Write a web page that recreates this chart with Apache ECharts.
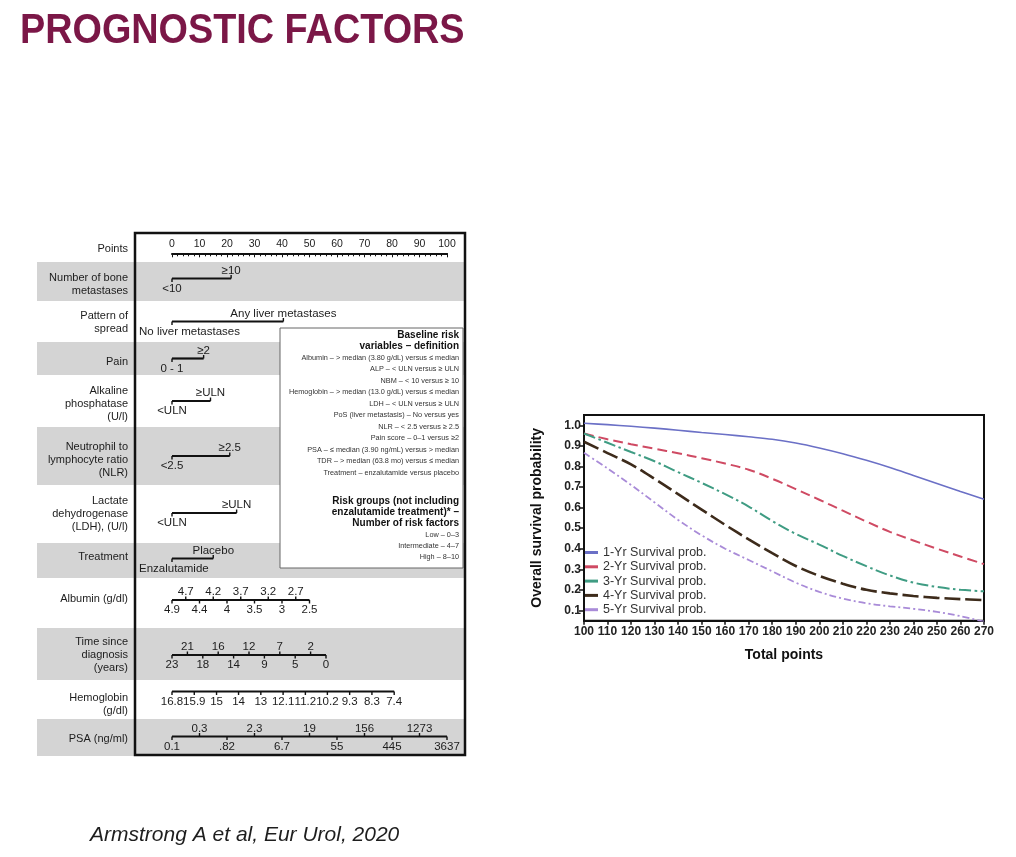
<!DOCTYPE html>
<html>
<head>
<meta charset="utf-8">
<script src="https://cdn.jsdelivr.net/npm/echarts@6/dist/echarts.min.js"></script>
<style>
html,body{margin:0;padding:0;background:#ffffff;}
#chart{width:1016px;height:857px;}
</style>
</head>
<body>
<div id="chart"></div>
<script>
// ================= DATA =================
const titleText = 'PROGNOSTIC FACTORS';
const citationText = 'Armstrong A et al, Eur Urol, 2020';

// Nomogram rows (variable names)
const rowNames = [
  'Points',
  'Number of bone\nmetastases',
  'Pattern of\nspread',
  'Pain',
  'Alkaline\nphosphatase\n(U/l)',
  'Neutrophil to\nlymphocyte ratio\n(NLR)',
  'Lactate\ndehydrogenase\n(LDH), (U/l)',
  'Treatment',
  'Albumin (g/dl)',
  'Time since\ndiagnosis\n(years)',
  'Hemoglobin\n(g/dl)',
  'PSA (ng/ml)'
];

// Points scale tick labels
const pointsTicks = [0, 10, 20, 30, 40, 50, 60, 70, 80, 90, 100];

// Each variable: tick labels and the points they map to
const boneLabels = ['<10', '≥10'];
const bonePoints = [0, 21.5];
const spreadLabels = ['No liver metastases', 'Any liver metastases'];
const spreadPoints = [0, 40.5];
const painLabels = ['0 - 1', '≥2'];
const painPoints = [0, 11.5];
const alpLabels = ['<ULN', '≥ULN'];
const alpPoints = [0, 14];
const nlrLabels = ['<2.5', '≥2.5'];
const nlrPoints = [0, 21];
const ldhLabels = ['<ULN', '≥ULN'];
const ldhPoints = [0, 23.5];
const treatmentLabels = ['Enzalutamide', 'Placebo'];
const treatmentPoints = [0, 15];
const albuminLabels = ['4.9', '4.7', '4.4', '4.2', '4', '3.7', '3.5', '3.2', '3', '2.7', '2.5'];
const albuminPoints = [0, 5, 10, 15, 20, 25, 30, 35, 40, 45, 50];
const timeLabels = ['23', '21', '18', '16', '14', '12', '9', '7', '5', '2', '0'];
const timePoints = [0, 5.6, 11.2, 16.8, 22.4, 28, 33.6, 39.2, 44.8, 50.4, 56];
const hbLabels = ['16.8', '15.9', '15', '14', '13', '12.1', '11.2', '10.2', '9.3', '8.3', '7.4'];
const hbPoints = [0, 8.1, 16.2, 24.2, 32.3, 40.4, 48.5, 56.5, 64.6, 72.7, 80.8];
const psaLabels = ['0.1', '0.3', '.82', '2.3', '6.7', '19', '55', '156', '445', '1273', '3637'];
const psaPoints = [0, 10, 20, 30, 40, 50, 60, 70, 80, 90, 100];

// Risk definition box
const riskHeader = ['Baseline risk', 'variables – definition'];
const riskDefinitions = [
  'Albumin – > median (3.80 g/dL) versus ≤ median',
  'ALP – < ULN versus ≥ ULN',
  'NBM – < 10 versus ≥ 10',
  'Hemoglobin – > median (13.0 g/dL) versus ≤ median',
  'LDH – < ULN versus ≥ ULN',
  'PoS (liver metastasis) – No versus yes',
  'NLR – < 2.5 versus ≥ 2.5',
  'Pain score – 0–1 versus ≥2',
  'PSA – ≤ median (3.90 ng/mL) versus > median',
  'TDR – > median (63.8 mo) versus ≤ median',
  'Treatment – enzalutamide versus placebo'
];
const riskGroupHeader = ['Risk groups (not including', 'enzalutamide treatment)* –', 'Number of risk factors'];
const riskGroups = ['Low – 0–3', 'Intermediate – 4–7', 'High – 8–10'];

// Survival curves
const totalPoints = [100, 110, 120, 130, 140, 150, 160, 170, 180, 190, 200, 210, 220, 230, 240, 250, 260, 270];
const surv1Yr = [1.01, 1.003, 0.995, 0.986, 0.976, 0.965, 0.955, 0.944, 0.932, 0.914, 0.89, 0.862, 0.83, 0.795, 0.756, 0.717, 0.678, 0.64];
const surv2Yr = [0.96, 0.932, 0.908, 0.886, 0.864, 0.84, 0.814, 0.784, 0.74, 0.69, 0.638, 0.585, 0.532, 0.482, 0.44, 0.40, 0.362, 0.325];
const surv3Yr = [0.96, 0.915, 0.87, 0.825, 0.772, 0.72, 0.665, 0.605, 0.535, 0.472, 0.42, 0.365, 0.315, 0.27, 0.235, 0.214, 0.20, 0.193];
const surv4Yr = [0.92, 0.865, 0.81, 0.74, 0.665, 0.59, 0.516, 0.445, 0.378, 0.316, 0.268, 0.23, 0.20, 0.183, 0.17, 0.161, 0.155, 0.15];
const surv5Yr = [0.866, 0.79, 0.71, 0.625, 0.54, 0.465, 0.40, 0.345, 0.29, 0.235, 0.19, 0.158, 0.135, 0.12, 0.108, 0.093, 0.072, 0.045];
const survNames = ['1-Yr Survival prob.', '2-Yr Survival prob.', '3-Yr Survival prob.', '4-Yr Survival prob.', '5-Yr Survival prob.'];
const yTickValues = [0.1, 0.2, 0.3, 0.4, 0.5, 0.6, 0.7, 0.8, 0.9, 1.0];

// ================= LAYOUT / STYLE =================
const FONT = '"Liberation Sans", Arial, Helvetica, sans-serif';
const rowHeights = [30, 39, 41, 33, 52, 58, 58, 35, 50, 52, 39, 37];
const rowShaded = [false, true, false, true, false, true, false, true, false, true, false, true];
const lineShift = [0, -3, 0, 0, 0, 0, -1, -2, -3, 1, -8, -1];
const nameShift = [2, 3, 1, 3, 3, 4, 0, -4, -4, 1, 4.5, 1];
const bandLeft = 37, bandRight = 465, nameRight = 128, labelMinLeft = 139;
const bandColor = '#d4d4d4';
const nomoTop = 232;
const nomoHeight = rowHeights.reduce((a, b) => a + b, 0);
const rowTops = [];
rowHeights.reduce((acc, h) => { rowTops.push(acc); return acc + h; }, 0);

const rowScales = [
  null,
  { labels: boneLabels, points: bonePoints, side: 'alternate' },
  { labels: spreadLabels, points: spreadPoints, side: 'alternate' },
  { labels: painLabels, points: painPoints, side: 'alternate' },
  { labels: alpLabels, points: alpPoints, side: 'alternate' },
  { labels: nlrLabels, points: nlrPoints, side: 'alternate' },
  { labels: ldhLabels, points: ldhPoints, side: 'alternate' },
  { labels: treatmentLabels, points: treatmentPoints, side: 'alternate' },
  { labels: albuminLabels, points: albuminPoints, side: 'alternate' },
  { labels: timeLabels, points: timePoints, side: 'alternate' },
  { labels: hbLabels, points: hbPoints, side: 'below' },
  { labels: psaLabels, points: psaPoints, side: 'alternate' }
];

const measureCtx = document.createElement('canvas').getContext('2d');
function textWidth(t, font) { measureCtx.font = font; return measureCtx.measureText(t).width; }

const nameFont = '11px ' + FONT;
const tickFont = '11.5px ' + FONT;

function renderRow(params, api) {
  const i = params.dataIndex;
  const yTop = api.coord([0, rowTops[i]])[1];
  const yBot = api.coord([0, rowTops[i] + rowHeights[i]])[1];
  const cy = (yTop + yBot) / 2;
  const children = [];
  if (rowShaded[i]) {
    children.push({ type: 'rect', shape: { x: bandLeft, y: yTop, width: bandRight - bandLeft, height: yBot - yTop },
      style: { fill: bandColor } });
  }
  children.push({ type: 'text', style: { text: rowNames[i], x: nameRight, y: cy + nameShift[i],
    align: 'right', textAlign: 'right', verticalAlign: 'middle', textVerticalAlign: 'middle',
    font: nameFont, fill: '#1c1c1c', lineHeight: 13 } });
  const sc = rowScales[i];
  if (sc) {
    const ly = cy + lineShift[i];
    const xs = sc.points.map(p => api.coord([p, 0])[0]);
    children.push({ type: 'line', shape: { x1: xs[0], y1: ly, x2: xs[xs.length - 1], y2: ly },
      style: { stroke: '#111', lineWidth: 2.2 } });
    sc.labels.forEach((lab, k) => {
      const above = sc.side === 'alternate' && k % 2 === 1;
      children.push({ type: 'line', shape: { x1: xs[k], y1: ly, x2: xs[k], y2: above ? ly - 3.5 : ly + 3.5 },
        style: { stroke: '#111', lineWidth: 1.4 } });
      const w = textWidth(lab, tickFont);
      const left = Math.max(xs[k] - w / 2, labelMinLeft);
      children.push({ type: 'text', style: { text: lab, x: left, y: above ? ly - 8 : ly + 10,
        align: 'left', textAlign: 'left', verticalAlign: 'middle', textVerticalAlign: 'middle',
        font: tickFont, fill: '#1c1c1c' } });
    });
  }
  return { type: 'group', children: children };
}

// graphic elements
const graphics = [];
graphics.push({ type: 'text', x: 20, y: 31, scaleX: 0.9, z: 20,
  style: { text: titleText, font: 'bold 42px ' + FONT, fill: '#7b1747',
    align: 'left', textAlign: 'left', verticalAlign: 'middle', textVerticalAlign: 'middle' } });
graphics.push({ type: 'text', x: 90, y: 835, z: 20,
  style: { text: citationText, font: 'italic 21px ' + FONT, fill: '#1e1e1e',
    align: 'left', textAlign: 'left', verticalAlign: 'middle', textVerticalAlign: 'middle' } });
// risk box
graphics.push({ type: 'rect', z: 10, shape: { x: 280, y: 328, width: 183, height: 240 },
  style: { fill: '#ffffff', stroke: '#666', lineWidth: 1 } });
const riskRight = 459;
riskHeader.forEach((t, k) => graphics.push({ type: 'text', x: riskRight, y: 335 + k * 11.3, z: 11,
  style: { text: t, font: 'bold 10px ' + FONT, fill: '#111', align: 'right', textAlign: 'right', verticalAlign: 'middle', textVerticalAlign: 'middle' } }));
riskDefinitions.forEach((t, k) => graphics.push({ type: 'text', x: riskRight, y: 357.5 + k * 11.5, z: 11,
  style: { text: t, font: '7.3px ' + FONT, fill: '#333', align: 'right', textAlign: 'right', verticalAlign: 'middle', textVerticalAlign: 'middle' } }));
riskGroupHeader.forEach((t, k) => graphics.push({ type: 'text', x: riskRight, y: 501 + k * 11.2, z: 11,
  style: { text: t, font: 'bold 10px ' + FONT, fill: '#111', align: 'right', textAlign: 'right', verticalAlign: 'middle', textVerticalAlign: 'middle' } }));
riskGroups.forEach((t, k) => graphics.push({ type: 'text', x: riskRight, y: 535 + k * 11, z: 11,
  style: { text: t, font: '7.3px ' + FONT, fill: '#333', align: 'right', textAlign: 'right', verticalAlign: 'middle', textVerticalAlign: 'middle' } }));
// nomogram frame
graphics.push({ type: 'rect', z: 12, shape: { x: 135, y: 233, width: 330, height: 522 },
  style: { fill: 'none', stroke: '#111', lineWidth: 2.5 } });

const survColors = ['#6b70c6', '#cf4a63', '#3f9c83', '#3d2b1b', '#a98bd8'];
const survDash = ['solid', [10, 5], [12, 3.5, 2.5, 3.5], [16, 5], [7, 3, 2, 3]];
const survWidth = [1.6, 2, 2, 2.6, 1.8];
const survData = [surv1Yr, surv2Yr, surv3Yr, surv4Yr, surv5Yr];

const survSeries = survNames.map((name, s) => ({
  name: name,
  type: 'line',
  xAxisIndex: 1,
  yAxisIndex: 1,
  smooth: 0.35,
  symbol: 'none',
  showSymbol: false,
  data: totalPoints.map((x, k) => [x, survData[s][k]]),
  lineStyle: { color: survColors[s], width: survWidth[s], type: survDash[s] },
  itemStyle: { color: survColors[s] },
  z: 3
}));

const option = {
  backgroundColor: '#ffffff',
  animation: false,
  textStyle: { fontFamily: FONT },
  graphic: { elements: graphics },
  grid: [
    { left: 172, top: nomoTop, width: 275, height: nomoHeight, show: false },
    { left: 584, top: 415, width: 400, height: 205.7, show: true, borderColor: '#111', borderWidth: 2, backgroundColor: 'transparent' }
  ],
  xAxis: [
    {
      gridIndex: 0, type: 'value', min: 0, max: 100, interval: 10, position: 'top', offset: -21.3,
      axisLine: { show: true, lineStyle: { color: '#111', width: 2 } },
      axisTick: { show: true, inside: true, length: 4, lineStyle: { color: '#111', width: 1 } },
      minorTick: { show: true, splitNumber: 5, length: 3, lineStyle: { color: '#111', width: 1 } },
      axisLabel: { show: true, fontSize: 10.5, color: '#222', margin: 4, fontFamily: FONT,
        customValues: pointsTicks },
      splitLine: { show: false }
    },
    {
      gridIndex: 1, type: 'value', min: 100, max: 270, interval: 10,
      name: 'Total points', nameLocation: 'middle', nameGap: 27,
      nameTextStyle: { fontSize: 14, fontWeight: 'bold', color: '#111', fontFamily: FONT },
      axisLine: { show: true, lineStyle: { color: '#111', width: 2 } },
      axisTick: { show: true, length: 4, lineStyle: { color: '#111', width: 1.5 } },
      axisLabel: { fontSize: 12, fontWeight: 'bold', color: '#222', margin: 5, fontFamily: FONT },
      splitLine: { show: false }
    }
  ],
  yAxis: [
    { gridIndex: 0, type: 'value', min: 0, max: nomoHeight, inverse: true, show: false },
    {
      gridIndex: 1, type: 'value', min: 0.05, max: 1.05,
      name: 'Overall survival probability', nameLocation: 'middle', nameGap: 40, nameRotate: 90,
      nameTextStyle: { fontSize: 14, fontWeight: 'bold', color: '#111', fontFamily: FONT },
      axisLine: { show: true, lineStyle: { color: '#111', width: 2 } },
      axisTick: { show: true, length: 5, customValues: yTickValues, lineStyle: { color: '#111', width: 1.5 } },
      axisLabel: { customValues: yTickValues, formatter: v => Number(v).toFixed(1), fontSize: 12, fontWeight: 'bold', color: '#222', margin: 3, fontFamily: FONT },
      splitLine: { show: false }
    }
  ],
  legend: {
    orient: 'vertical', left: 585, top: 546, padding: 0, itemGap: 1.3,
    itemWidth: 13, itemHeight: 3, icon: 'rect',
    data: survNames,
    textStyle: { fontSize: 12.5, color: '#333', lineHeight: 13, fontFamily: FONT }
  },
  series: [
    {
      type: 'custom', name: 'nomogram', xAxisIndex: 0, yAxisIndex: 0, z: 1, silent: true,
      renderItem: renderRow,
      data: rowNames.map((n, i) => [0, rowTops[i]])
    }
  ].concat(survSeries)
};

const chart = echarts.init(document.getElementById('chart'), null, { renderer: 'canvas' });
chart.setOption(option);
</script>
</body>
</html>
